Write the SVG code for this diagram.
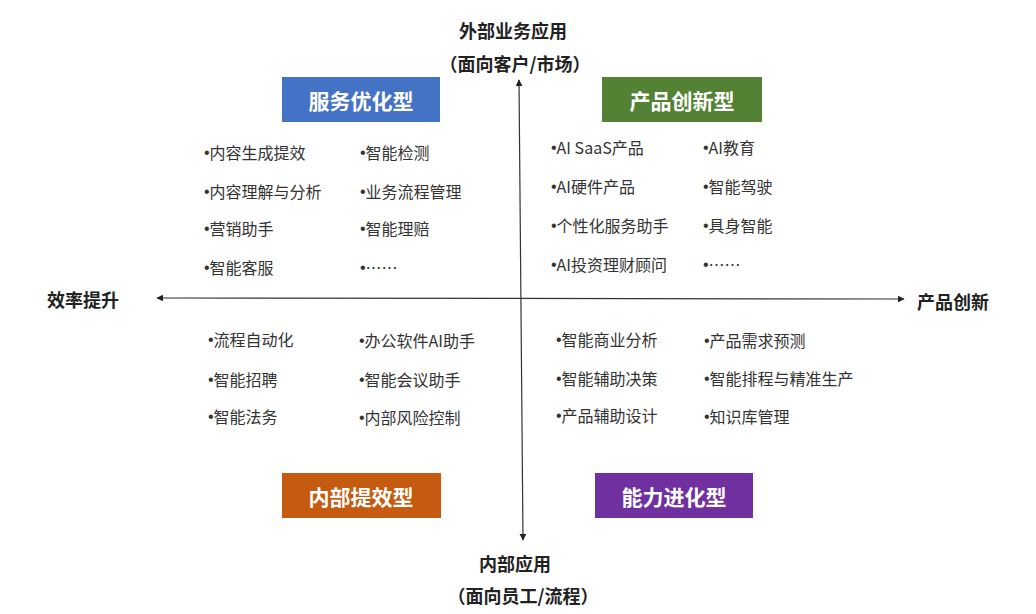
<svg xmlns="http://www.w3.org/2000/svg" width="1036" height="614" viewBox="0 0 1036 614">
<style>
.t{font-family:"Noto Sans CJK SC","Liberation Sans",sans-serif;font-size:16px;fill:#333;dominant-baseline:central}
.b{font-family:"Liberation Sans",sans-serif}
.h{font-family:"Noto Sans CJK SC","Liberation Sans",sans-serif;font-size:21px;font-weight:bold;fill:#fff;text-anchor:middle;dominant-baseline:central}
.a{font-family:"Noto Sans CJK SC","Liberation Sans",sans-serif;font-size:18px;font-weight:bold;fill:#222;text-anchor:middle;dominant-baseline:central}
.ax{stroke:#333;stroke-width:1.2;fill:none}
</style>
<defs>
<marker id="arr" viewBox="0 0 10 10" refX="9" refY="5" markerWidth="7" markerHeight="7" orient="auto-start-reverse" markerUnits="userSpaceOnUse">
<path d="M0,0 L10,5 L0,10 z" fill="#222"/>
</marker>
</defs>
<rect width="1036" height="614" fill="#fff"/>
<g id="connectors">
<line class="ax" x1="519" y1="80" x2="523" y2="540" marker-start="url(#arr)" marker-end="url(#arr)"/>
<line class="ax" x1="157" y1="298" x2="904" y2="299" marker-start="url(#arr)" marker-end="url(#arr)"/>
</g>
<g id="axis-top"><text class="a" x="513" y="30">外部业务应用</text><text class="a" x="515" y="63">（面向客户/市场）</text></g>
<g id="axis-bottom"><text class="a" x="515" y="563">内部应用</text><text class="a" x="523" y="595">（面向员工/流程）</text></g>
<g id="axis-left"><text class="a" x="83" y="299">效率提升</text></g>
<g id="axis-right"><text class="a" x="953" y="301">产品创新</text></g>
<g id="service">
<rect x="282" y="77" width="158" height="45" fill="#4472C4"/>
<text class="h" x="361" y="100">服务优化型</text>
</g>
<g id="product">
<rect x="602" y="77" width="160" height="45" fill="#548235"/>
<text class="h" x="682" y="100">产品创新型</text>
</g>
<g id="internal">
<rect x="282" y="473" width="159" height="45" fill="#C55A11"/>
<text class="h" x="361" y="496">内部提效型</text>
</g>
<g id="capability">
<rect x="595" y="473" width="158" height="45" fill="#7030A0"/>
<text class="h" x="674" y="496">能力进化型</text>
</g>
<g id="tl-items">
<text class="t" x="204" y="152"><tspan class="b">•</tspan>内容生成提效</text>
<text class="t" x="204" y="191"><tspan class="b">•</tspan>内容理解与分析</text>
<text class="t" x="204" y="228"><tspan class="b">•</tspan>营销助手</text>
<text class="t" x="204" y="267"><tspan class="b">•</tspan>智能客服</text>
<text class="t" x="360" y="152"><tspan class="b">•</tspan>智能检测</text>
<text class="t" x="360" y="191"><tspan class="b">•</tspan>业务流程管理</text>
<text class="t" x="360" y="228"><tspan class="b">•</tspan>智能理赔</text>
<text class="t" x="360" y="267"><tspan class="b">•</tspan>……</text>
</g>
<g id="tr-items">
<text class="t" x="551" y="147"><tspan class="b">•</tspan>AI SaaS产品</text>
<text class="t" x="551" y="186"><tspan class="b">•</tspan>AI硬件产品</text>
<text class="t" x="551" y="225"><tspan class="b">•</tspan>个性化服务助手</text>
<text class="t" x="551" y="264"><tspan class="b">•</tspan>AI投资理财顾问</text>
<text class="t" x="703" y="147"><tspan class="b">•</tspan>AI教育</text>
<text class="t" x="703" y="186"><tspan class="b">•</tspan>智能驾驶</text>
<text class="t" x="703" y="225"><tspan class="b">•</tspan>具身智能</text>
<text class="t" x="703" y="264"><tspan class="b">•</tspan>……</text>
</g>
<g id="bl-items">
<text class="t" x="208" y="339"><tspan class="b">•</tspan>流程自动化</text>
<text class="t" x="208" y="379"><tspan class="b">•</tspan>智能招聘</text>
<text class="t" x="208" y="416"><tspan class="b">•</tspan>智能法务</text>
<text class="t" x="359" y="340"><tspan class="b">•</tspan>办公软件AI助手</text>
<text class="t" x="359" y="379"><tspan class="b">•</tspan>智能会议助手</text>
<text class="t" x="359" y="417"><tspan class="b">•</tspan>内部风险控制</text>
</g>
<g id="br-items">
<text class="t" x="556" y="339"><tspan class="b">•</tspan>智能商业分析</text>
<text class="t" x="556" y="378"><tspan class="b">•</tspan>智能辅助决策</text>
<text class="t" x="556" y="415"><tspan class="b">•</tspan>产品辅助设计</text>
<text class="t" x="704" y="340"><tspan class="b">•</tspan>产品需求预测</text>
<text class="t" x="704" y="378"><tspan class="b">•</tspan>智能排程与精准生产</text>
<text class="t" x="704" y="416"><tspan class="b">•</tspan>知识库管理</text>
</g>
</svg>
